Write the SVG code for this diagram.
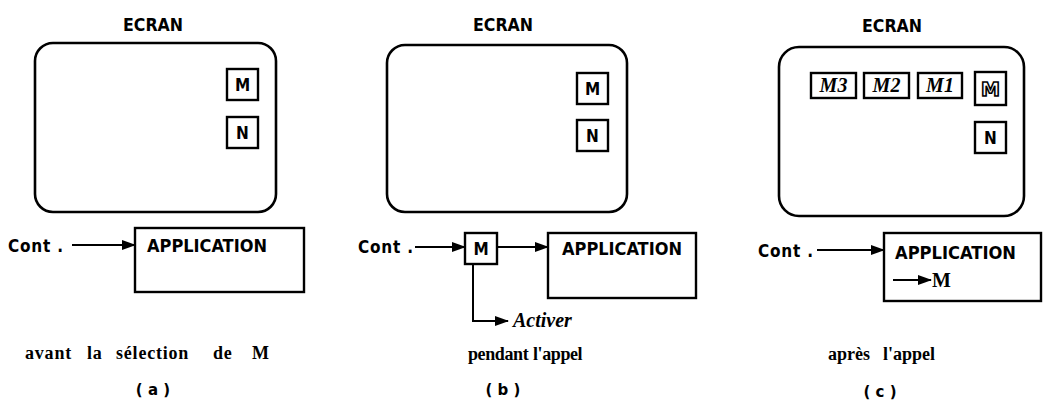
<svg xmlns="http://www.w3.org/2000/svg" width="1043" height="408" viewBox="0 0 1043 408">
<style>
.scr{fill:none;stroke:#000;stroke-width:2.6}
.box{fill:#fff;stroke:#000;stroke-width:2.4}
.lbl{font-family:'DejaVu Sans Condensed','DejaVu Sans',sans-serif;font-weight:bold;font-size:17px;fill:#000}
.cap{font-family:'Liberation Serif','Times New Roman',serif;font-weight:bold;font-size:18px;fill:#000}
.par{font-family:'DejaVu Sans',sans-serif;font-weight:bold;font-size:15px;fill:#000}
.it{font-family:'Liberation Serif','Times New Roman',serif;font-weight:bold;font-style:italic;font-size:20px;fill:#000}
.ser{font-family:'Liberation Serif','Times New Roman',serif;font-weight:bold;font-size:20px;fill:#000}
.out{font-family:'DejaVu Sans',sans-serif;font-weight:bold;font-size:19px;fill:#fff;stroke:#000;stroke-width:1.6}
.con{fill:none;stroke:#000;stroke-width:2}
</style>
<defs>
<marker id="ah" markerUnits="userSpaceOnUse" markerWidth="14" markerHeight="10" refX="13" refY="5" orient="auto"><path d="M0,0 L14,5 L0,10 Z" fill="#000"/></marker>
</defs>

<!-- Panel (a) -->
<g id="a-screen">
<text class="lbl" x="123" y="31" font-size="18" textLength="60" lengthAdjust="spacingAndGlyphs">ECRAN</text>
<rect class="scr" x="35" y="43" width="241" height="169" rx="18"/>
</g>
<g id="a-M"><rect class="box" x="227" y="69" width="31" height="31"/><text class="lbl" x="242.5" y="91" text-anchor="middle">M</text></g>
<g id="a-N"><rect class="box" x="227" y="117" width="31" height="31"/><text class="lbl" x="242.5" y="139" text-anchor="middle">N</text></g>
<g id="a-cont"><text class="lbl" x="8" y="252" textLength="55" lengthAdjust="spacing">Cont .</text></g>
<g id="a-app"><rect class="box" x="135" y="228" width="169" height="64"/><text class="lbl" x="147" y="252" textLength="120" lengthAdjust="spacingAndGlyphs">APPLICATION</text></g>
<g id="a-caption">
<text class="cap" y="359" letter-spacing="0.8"><tspan x="25">avant</tspan> <tspan x="87">la</tspan> <tspan x="116">sélection</tspan> <tspan x="213">de</tspan> <tspan x="252">M</tspan></text>
<text class="par" x="153" y="395" text-anchor="middle">( a )</text>
</g>

<!-- Panel (b) -->
<g id="b-screen">
<text class="lbl" x="473" y="31" font-size="18" textLength="60" lengthAdjust="spacingAndGlyphs">ECRAN</text>
<rect class="scr" x="387" y="45" width="240" height="167" rx="18"/>
</g>
<g id="b-M"><rect class="box" x="577" y="73" width="31" height="31"/><text class="lbl" x="592.5" y="95" text-anchor="middle">M</text></g>
<g id="b-N"><rect class="box" x="577" y="120" width="31" height="31"/><text class="lbl" x="592.5" y="142" text-anchor="middle">N</text></g>
<g id="b-cont"><text class="lbl" x="358" y="253" textLength="55" lengthAdjust="spacing">Cont .</text></g>
<g id="b-Mcall"><rect class="box" x="465" y="233" width="32" height="31"/><text class="lbl" x="481" y="255" text-anchor="middle">M</text></g>
<g id="b-app"><rect class="box" x="548" y="233" width="148" height="65"/><text class="lbl" x="562" y="255" textLength="120" lengthAdjust="spacingAndGlyphs">APPLICATION</text></g>
<g id="b-activer"><text class="it" x="513" y="327">Activer</text></g>
<g id="b-caption">
<text class="cap" y="360" font-size="16.5" letter-spacing="-0.4"><tspan x="468">pendant</tspan> <tspan x="533">l'appel</tspan></text>
<text class="par" x="503" y="395" text-anchor="middle">( b )</text>
</g>

<!-- Panel (c) -->
<g id="c-screen">
<text class="lbl" x="862" y="32" font-size="18" textLength="60" lengthAdjust="spacingAndGlyphs">ECRAN</text>
<rect class="scr" x="779" y="47" width="245" height="169" rx="20"/>
</g>
<g id="c-M3"><rect class="box" x="811" y="73" width="45" height="25"/><text class="it" x="833.5" y="92" text-anchor="middle">M3</text></g>
<g id="c-M2"><rect class="box" x="864" y="73" width="45" height="25"/><text class="it" x="886.5" y="92" text-anchor="middle">M2</text></g>
<g id="c-M1"><rect class="box" x="918" y="73" width="44" height="25"/><text class="it" x="940" y="92" text-anchor="middle">M1</text></g>
<g id="c-M"><rect class="box" x="975" y="72" width="31" height="33" stroke-width="3.6"/><text class="out" x="990.5" y="96" text-anchor="middle">M</text></g>
<g id="c-N"><rect class="box" x="975" y="122" width="31" height="31"/><text class="lbl" x="990.5" y="144" text-anchor="middle">N</text></g>
<g id="c-cont"><text class="lbl" x="758" y="257" textLength="55" lengthAdjust="spacing">Cont .</text></g>
<g id="c-app"><rect class="box" x="884" y="233" width="157" height="68"/><text class="lbl" x="895" y="259" textLength="121" lengthAdjust="spacingAndGlyphs">APPLICATION</text><text class="ser" x="932" y="287">M</text></g>
<g id="c-caption">
<text class="cap" y="360" font-size="17"><tspan x="828">après</tspan> <tspan x="883">l'appel</tspan></text>
<text class="par" x="880" y="397" text-anchor="middle">( c )</text>
</g>

<g id="connectors">
<line class="con" x1="72" y1="245" x2="135" y2="245" marker-end="url(#ah)"/>
<line class="con" x1="415" y1="247" x2="465" y2="247" marker-end="url(#ah)"/>
<line class="con" x1="497" y1="247" x2="548" y2="247" marker-end="url(#ah)"/>
<polyline class="con" points="473,264 473,321 508,321" marker-end="url(#ah)"/>
<line class="con" x1="817" y1="250" x2="884" y2="250" marker-end="url(#ah)"/>
<line class="con" x1="893" y1="280" x2="931" y2="280" marker-end="url(#ah)"/>
</g>
</svg>
